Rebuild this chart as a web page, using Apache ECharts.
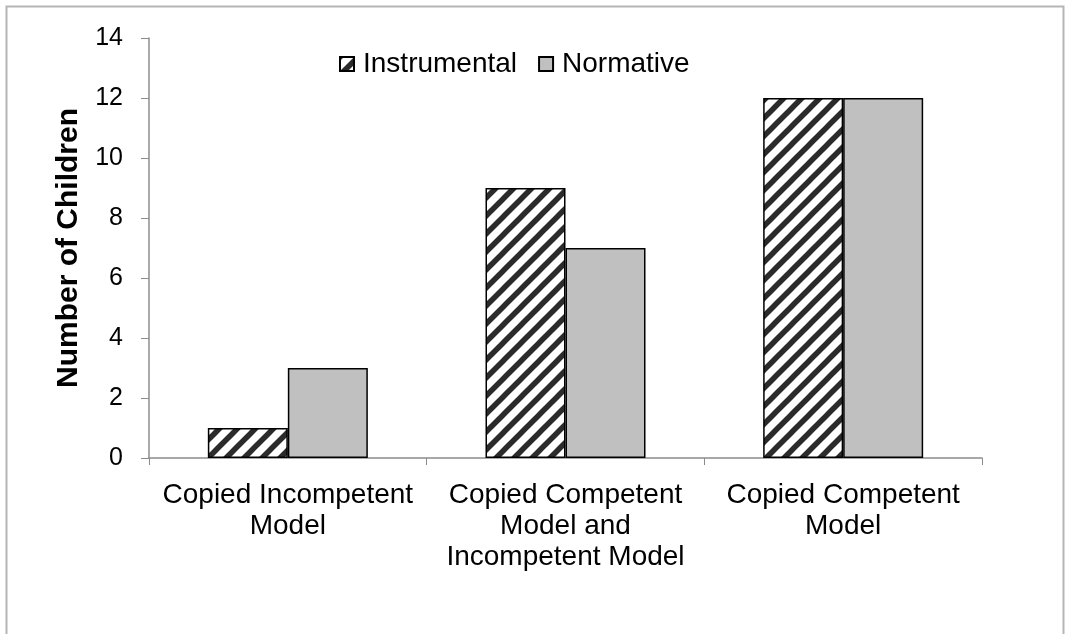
<!DOCTYPE html>
<html><head><meta charset="utf-8">
<script src="https://cdn.jsdelivr.net/npm/echarts@6/dist/echarts.min.js"></script>
<style>html,body{margin:0;padding:0;background:#fff}#c{width:1070px;height:634px}</style>
</head><body><div id="c"></div>
<script>
const categories = ['Copied Incompetent\nModel', 'Copied Competent\nModel and\nIncompetent Model', 'Copied Competent\nModel'];
const instrumental = [1, 9, 12];
const normative = [3, 7, 12];
const yTicks = [0, 2, 4, 6, 8, 10, 12, 14];

function hatch() {
  const s = 18;
  const c = document.createElement('canvas');
  c.width = s; c.height = s;
  const g = c.getContext('2d');
  g.fillStyle = '#fff'; g.fillRect(0, 0, s, s);
  g.strokeStyle = '#2b2b2b'; g.lineWidth = 5.5;
  for (let k = -2; k <= 2; k++) {
    g.beginPath();
    g.moveTo(k * s - s, 2 * s); g.lineTo(k * s + 2 * s, -s);
    g.stroke();
  }
  return c;
}
const pat = { image: hatch(), repeat: 'repeat' };
const FF = 'Liberation Sans, Arial, sans-serif';

const chart = echarts.init(document.getElementById('c'));
chart.setOption({
  animation: false,
  textStyle: { fontFamily: FF },
  graphic: [{ type: 'rect', shape: { x: 6.5, y: 6.5, width: 1057, height: 700 }, style: { fill: 'none', stroke: '#b5b5b5', lineWidth: 2 } }],
  legend: {
    left: 334, top: 45, itemWidth: 14, itemHeight: 14, itemGap: 21, icon: 'rect',
    textStyle: { fontSize: 28, color: '#000', fontFamily: FF, padding: [0, 0, 0, 4] },
    data: ['Instrumental', 'Normative']
  },
  grid: { left: 149, right: 88, top: 38, bottom: 176 },
  xAxis: {
    type: 'category', data: categories,
    axisLine: { lineStyle: { color: '#8c8c8c', width: 1.5 } },
    axisTick: { show: true, alignWithLabel: false, length: 7, lineStyle: { color: '#8c8c8c' } },
    axisLabel: { fontSize: 28, color: '#000', lineHeight: 31, margin: 22, interval: 0 }
  },
  yAxis: {
    type: 'value', min: 0, max: 14, interval: 2,
    name: 'Number of Children', nameLocation: 'middle', nameGap: 65, nameRotate: 90,
    nameTextStyle: { fontSize: 30, fontWeight: 'bold', color: '#000' },
    axisLine: { show: true, lineStyle: { color: '#8c8c8c', width: 1.5 } },
    axisTick: { show: true, length: 8, lineStyle: { color: '#8c8c8c' } },
    splitLine: { show: false },
    axisLabel: { fontSize: 25, color: '#000', margin: 26, formatter: v => yTicks.includes(v) ? String(v) : '' }
  },
  series: [
    { name: 'Instrumental', type: 'bar', data: instrumental, barWidth: 80, barGap: '0%',
      itemStyle: { color: pat, borderColor: '#000', borderWidth: 1.5 } },
    { name: 'Normative', type: 'bar', data: normative, barWidth: 80,
      itemStyle: { color: '#c0c0c0', borderColor: '#000', borderWidth: 1.5 } }
  ]
});
</script></body></html>
